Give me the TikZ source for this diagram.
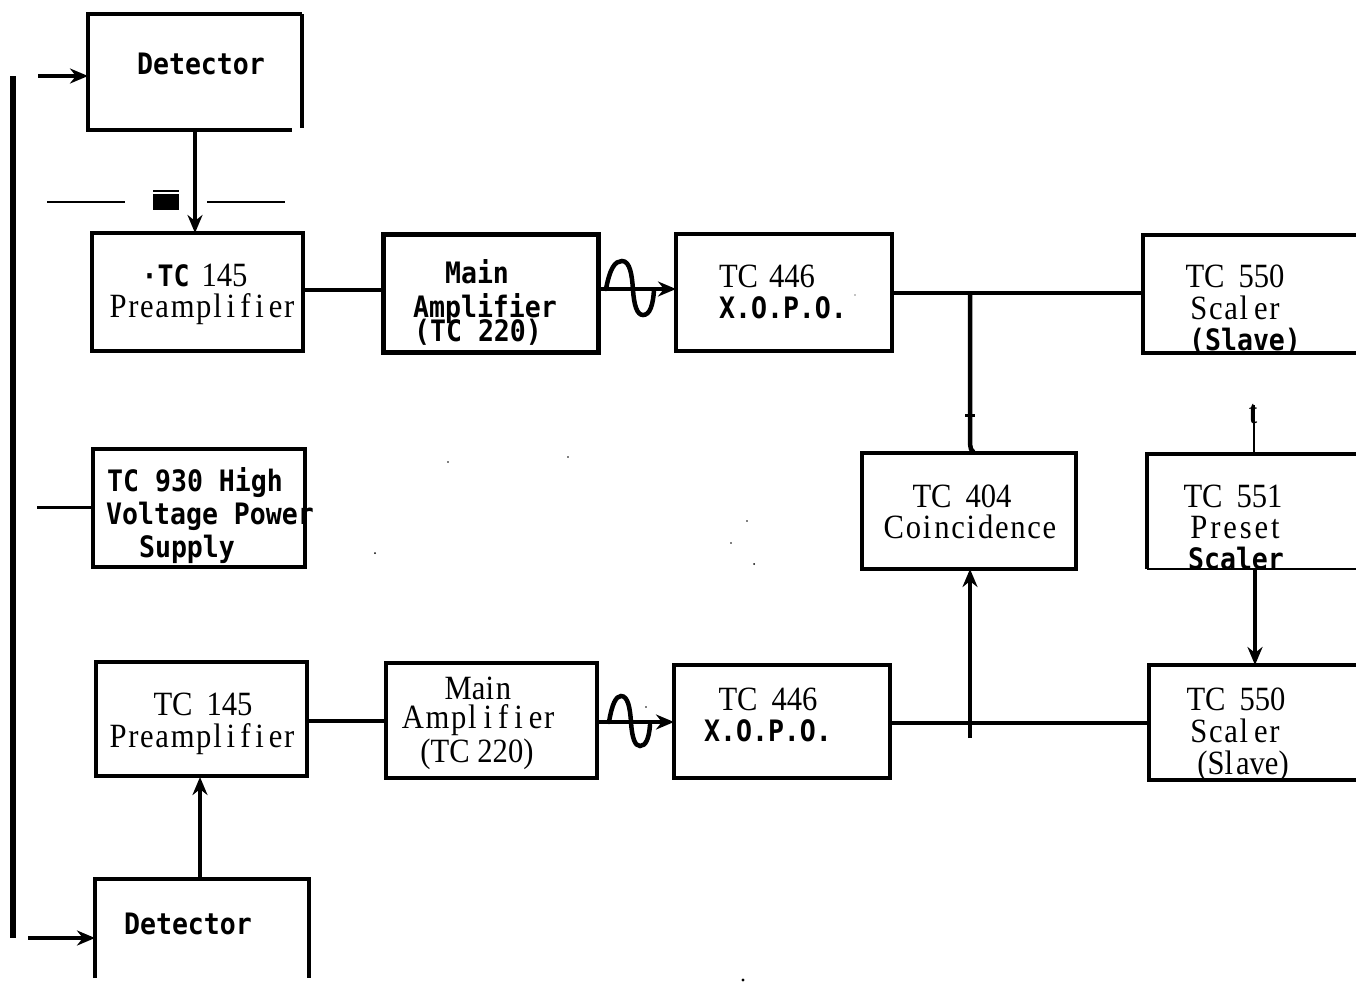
\documentclass[tikz,border=0pt]{standalone}
\usepackage{fontspec}
\setmainfont{Liberation Serif}[FakeStretch=0.9,LetterSpace=5]
\newfontfamily\tightf{Liberation Serif}[FakeStretch=0.9]
\newfontfamily\widef{Liberation Serif}[FakeStretch=0.9,LetterSpace=8.5]
\newfontfamily\bmono{DejaVu Sans Mono}[BoldFont={DejaVu Sans Mono Bold},FakeStretch=0.9]
\usetikzlibrary{arrows.meta,calc}
\tikzset{
  box/.style={draw=black,line width=#1,rectangle,inner sep=0pt,outer sep=0pt},
  box/.default=4.5pt,
  ghost/.style={rectangle,inner sep=0pt,outer sep=0pt},
  serif/.style={inner sep=0pt,anchor=base,font=\fontsize{34}{36}\selectfont},
  mono/.style={inner sep=0pt,anchor=base,font=\fontsize{29.5}{32}\selectfont\bmono\bfseries},
  wire/.style={line width=#1,draw=black},
  wire/.default=4.5pt,
  arrowwire/.style={line width=#1,draw=black,-{Stealth[length=18pt,width=15pt]}},
  arrowwire/.default=4.5pt,
  thinwire/.style={line width=1.5pt,draw=black},
  wave/.style={line width=4.5pt,draw=black,line cap=round},
  speck/.style={fill=black,draw=none}
}
\newcommand{\nk}{\kern5pt\relax}
\begin{document}
\begin{tikzpicture}[x=1pt,y=-1pt]
\useasboundingbox (0,0) rectangle (1356,991);
% boxes
\node[ghost,minimum width=214pt,minimum height=116pt] (det1) at (195,72) {};
\node[box,minimum width=211pt,minimum height=118pt] (pre1) at (197.5,292) {};
\node[box=5pt,minimum width=215pt,minimum height=118pt] (main1) at (490.5,293) {};
\node[box,minimum width=216pt,minimum height=117pt] (xopo1) at (784,292.5) {};
\node[box,minimum width=257pt,minimum height=118pt] (sc1) at (1271.5,294) {};
\node[box,minimum width=214pt,minimum height=116pt] (coin) at (969,511) {};
\node[ghost,minimum width=253pt,minimum height=115pt] (pres) at (1273.5,511.5) {};
\node[box,minimum width=212pt,minimum height=118pt] (hv) at (199,508) {};
\node[box,minimum width=211pt,minimum height=114pt] (pre2) at (201.5,719) {};
\node[box=4pt,minimum width=211pt,minimum height=115pt] (main2) at (491.5,720.5) {};
\node[box,minimum width=216pt,minimum height=113pt] (xopo2) at (782,721.5) {};
\node[box=4pt,minimum width=251pt,minimum height=115pt] (sc2) at (1274.5,722.5) {};
\node[ghost,minimum width=214pt,minimum height=116pt] (det2) at (202,937) {};
% partial outlines
\draw[wire,line join=miter] (det1.north east) -- (det1.north west) -- (det1.south west) -- ([xshift=-10pt]det1.south east);
\draw[wire=4pt] ([xshift=0pt]det1.north east) -- ([yshift=2pt]det1.south east);
\draw[wire] ($(det2.west)+(0,41)$) -- (det2.north west) -- (det2.north east) -- ($(det2.east)+(0,41)$);
\draw[wire] (pres.south west) -- (pres.north west) -- (pres.north east);
\draw[wire=2.5pt] (pres.south west) -- (pres.south east);
% free ends
\coordinate (busTop) at (13,76);
\coordinate (busBot) at (13,938);
\coordinate (in1) at (38,76);
\coordinate (in2) at (28,938);
\coordinate (in3) at (37,507);
\coordinate (j1) at (970,293);
\coordinate (j2) at (970,738);
\coordinate (tTop) at (1254,405);
% connectors
\draw[wire=5.5pt] (busTop) -- (busBot);
\draw[arrowwire] (in1) -- (in1 -| det1.west);
\draw[arrowwire] (in2) -- (in2 -| det2.west);
\draw[wire=3pt] (in3) -- (in3 -| hv.west);
\draw[arrowwire] (det1.south) -- (det1.south |- pre1.north);
\draw[wire] ([yshift=2pt]pre1.east) -- ([yshift=3pt]main1.west);
\draw[wire] ([yshift=-2pt]pre2.east) -- ([yshift=-0.5pt]main2.west);
\draw[arrowwire] ([yshift=4pt]main1.east) -- ([yshift=3.5pt]xopo1.west);
\draw[arrowwire] ([yshift=-1.5pt]main2.east) -- ([yshift=-0.5pt]xopo2.west);
\draw[wire] (xopo1.east |- j1) -- (sc1.west |- j1);
\draw[wire=3.5pt] ([yshift=-1.5pt]xopo2.east) -- ([yshift=-0.5pt]sc2.west);
\draw[wire] (j1) -- (970,440) .. controls (970,448) and (971,451) .. (974,452);
\draw[wire=3pt] (965,415) -- (975,415);
\draw[arrowwire] (j2) -- (j2 |- coin.south);
\draw[thinwire] (pres.north -| tTop) -- (tTop);
\draw[arrowwire] (1255,569) -- (1255,665);
\draw[arrowwire] (200,878) -- (200,777);
% sine marks
\draw[wave] (606,289) .. controls (610,268) and (615,261) .. (622,261) .. controls (630,261) and (632,275) .. (633,290) .. controls (634,305) and (637,315) .. (643,315) .. controls (650,315) and (653,305) .. (654,290);
\draw[wave] (609,722) .. controls (612,704) and (616,696) .. (621,696) .. controls (628,696) and (630,708) .. (631,722) .. controls (632,738) and (635,746) .. (640,746) .. controls (646,746) and (649,738) .. (650,725);
% stray rules of the scan
\draw[thinwire] (47,202) -- (125,202);
\draw[thinwire] (207,202) -- (285,202);
\fill (153,190) rectangle (179,192);
\fill (153,194) rectangle (179,210);
% specks
\fill[speck] (448,462) circle (0.8pt) (568,457) circle (0.8pt) (375,553) circle (1pt) (747,521) circle (0.8pt) (731,543) circle (0.8pt) (754,564) circle (1pt) (743,980) circle (1.6pt) (646,707) circle (0.8pt) (855,295) circle (0.6pt);
% texts
\node[mono] (t1) at (201,74) {Detector};
\node[serif] (t2) at (194.5,286) {{\bmono\bfseries\fontsize{29.5}{32}\selectfont ·TC}\hspace{12pt}{\tightf 145}};
\node[serif] (t3) at (202,317) {Preampl\nk i\nk f\nk i\nk er};
\node[mono] (t4) at (477,283) {Main};
\node[mono] (t5) at (485,317) {Amplifier};
\node[mono] (t6) at (478,341) {(TC 220)};
\node[serif] (t7) at (767,287) {\tightf TC\hspace{11pt}446};
\node[mono] (t8) at (783,318) {X.O.P.O.};
\node[serif] (t9) at (1235,287) {\tightf TC\hspace{14pt}550};
\node[serif] (t10) at (1235,319) {Scal\kern6pt er};
\node[mono] (t11) at (1245,350) {(Slave)};
\node[serif] (t12) at (962,507) {\tightf TC\hspace{14pt}404};
\node[serif] (t13) at (970,538) {Coi\kern3pt nci\kern3pt dence};
\node[serif] (t14) at (1233,507) {\tightf TC\hspace{14pt}551};
\node[serif] (t15) at (1235,538) {\widef Preset};
\node[mono] (t16) at (1236,569) {Scaler};
\node[serif] (t17) at (1253,423) {t};
\node[mono] (t18) at (195,491) {TC 930 High};
\node[mono] (t19) at (210,524) {Voltage Power};
\node[mono] (t20) at (187,557) {Supply};
\node[serif] (t21) at (203,715) {\tightf TC\hspace{14pt}145};
\node[serif] (t22) at (202,747) {Preampl\nk i\nk f\nk i\nk er};
\node[serif] (t23) at (478,699) {\tightf Mai\kern2pt n};
\node[serif] (t24) at (478,728) {Ampl\kern7pt i\kern6pt f\kern6pt i\kern6pt er};
\node[serif] (t25) at (477,762) {\tightf (TC 220)};
\node[serif] (t26) at (768,710) {\tightf TC\hspace{14pt}446};
\node[mono] (t27) at (768,741) {X.O.P.O.};
\node[serif] (t28) at (1236,710) {\tightf TC\hspace{14pt}550};
\node[serif] (t29) at (1235,742) {Scal\kern6pt er};
\node[serif] (t30) at (1243,774) {\tightf (Sl\kern3pt ave)};
\node[mono] (t31) at (188,934) {Detector};
\end{tikzpicture}
\end{document}
